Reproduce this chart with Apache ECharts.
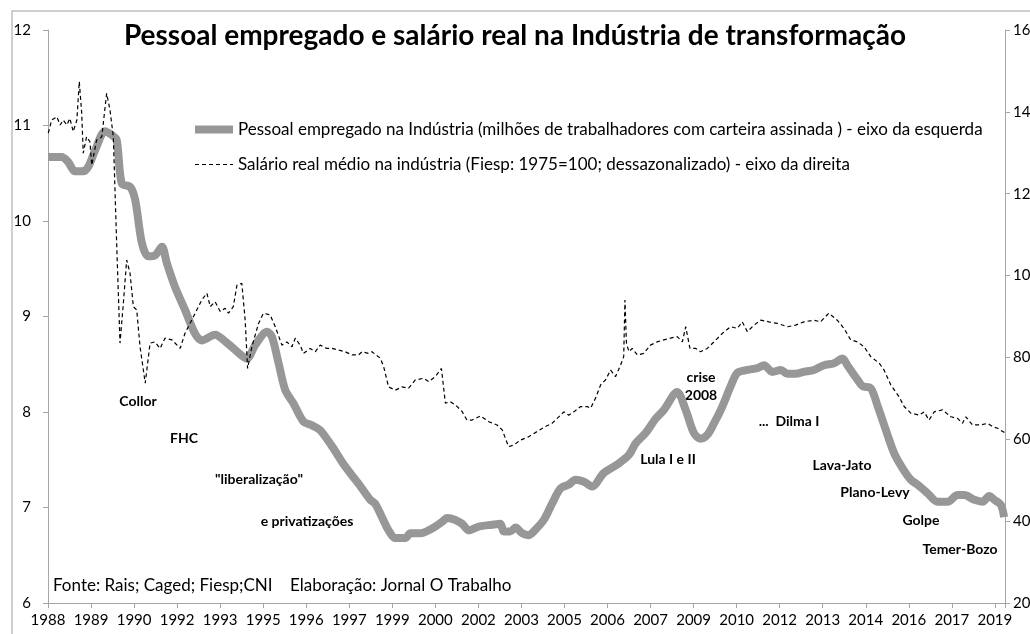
<!DOCTYPE html>
<html>
<head>
<meta charset="utf-8">
<script src="https://cdn.jsdelivr.net/npm/echarts@6/dist/echarts.min.js"></script>
<style>
html, body { margin: 0; padding: 0; background: #fff; }
#chart { width: 1030px; height: 634px; }
</style>
</head>
<body>
<div id="chart"></div>
<script>
// eixo x: meses desde jan/1988, um rótulo a cada 17 meses
var xLabels = ['1988', '1989', '1990', '1992', '1993', '1995', '1996', '1997', '1999', '2000', '2002', '2003',
    '2005', '2006', '2007', '2009', '2010', '2012', '2013', '2014', '2016', '2017', '2019']

// Pessoal empregado (milhões) - [ano, valor]
var empregados = [
    [1988.00, 10.67], [1988.45, 10.67], [1988.66, 10.62], [1988.89, 10.52], [1989.16, 10.52], [1989.33, 10.57],
    [1989.55, 10.74], [1989.88, 10.94], [1990.10, 10.90], [1990.26, 10.85], [1990.43, 10.39], [1990.70, 10.36],
    [1990.87, 10.22], [1991.09, 9.77], [1991.30, 9.63], [1991.52, 9.64], [1991.75, 9.73], [1991.91, 9.56],
    [1992.18, 9.31], [1992.51, 9.07], [1992.84, 8.82], [1993.06, 8.75], [1993.50, 8.81], [1993.83, 8.74],
    [1994.16, 8.65], [1994.55, 8.56], [1994.82, 8.70], [1995.21, 8.84], [1995.37, 8.79], [1995.59, 8.51],
    [1995.81, 8.23], [1996.08, 8.09], [1996.41, 7.90], [1996.69, 7.86], [1996.96, 7.81], [1997.35, 7.64],
    [1997.78, 7.43], [1998.22, 7.25], [1998.61, 7.08], [1998.77, 7.04], [1998.99, 6.90], [1999.21, 6.76],
    [1999.43, 6.68], [1999.76, 6.68], [1999.93, 6.73], [2000.26, 6.73], [2000.64, 6.78], [2000.97, 6.85],
    [2001.14, 6.89], [2001.41, 6.87], [2001.63, 6.83], [2001.85, 6.76], [2002.18, 6.80], [2002.62, 6.82],
    [2002.89, 6.83], [2003.00, 6.75], [2003.22, 6.75], [2003.39, 6.79], [2003.61, 6.73], [2003.82, 6.71],
    [2003.99, 6.75], [2004.32, 6.87], [2004.59, 7.04], [2004.87, 7.20], [2005.14, 7.24], [2005.36, 7.29],
    [2005.64, 7.27], [2005.91, 7.22], [2006.29, 7.36], [2006.74, 7.45], [2007.12, 7.55], [2007.34, 7.67],
    [2007.67, 7.78], [2008.00, 7.93], [2008.27, 8.02], [2008.71, 8.21], [2008.99, 8.02], [2009.26, 7.78],
    [2009.48, 7.72], [2009.70, 7.76], [2009.92, 7.88], [2010.20, 8.06], [2010.47, 8.27], [2010.69, 8.41],
    [2011.02, 8.44], [2011.35, 8.46], [2011.57, 8.49], [2011.84, 8.42], [2012.12, 8.44], [2012.34, 8.40],
    [2012.61, 8.40], [2012.88, 8.42], [2013.21, 8.44], [2013.54, 8.49], [2013.87, 8.51], [2014.15, 8.56],
    [2014.31, 8.49], [2014.64, 8.34], [2014.81, 8.27], [2015.08, 8.25], [2015.30, 8.07], [2015.58, 7.81],
    [2015.85, 7.57], [2016.13, 7.41], [2016.40, 7.29], [2016.62, 7.24], [2016.95, 7.15], [2017.28, 7.06],
    [2017.61, 7.06], [2017.94, 7.13], [2018.16, 7.13], [2018.49, 7.08], [2018.76, 7.06], [2018.98, 7.12],
    [2019.15, 7.08], [2019.36, 7.03], [2019.47, 6.90]
]

// Salário real médio (1975=100) - [ano, valor]
var salario = [
    [1988.01, 134.8], [1988.12, 138.0], [1988.29, 138.8], [1988.40, 136.8], [1988.50, 138.0], [1988.62, 136.8],
    [1988.72, 138.4], [1988.83, 135.2], [1988.95, 138.0], [1989.03, 147.4], [1989.11, 139.6], [1989.16, 129.9],
    [1989.27, 133.9], [1989.38, 132.7], [1989.44, 127.0], [1989.60, 133.1], [1989.77, 133.9], [1989.82, 137.2],
    [1989.93, 144.5], [1990.04, 140.5], [1990.15, 133.9], [1990.26, 107.9], [1990.37, 83.5], [1990.48, 93.2],
    [1990.59, 103.8], [1990.70, 100.6], [1990.81, 92.4], [1990.92, 91.6], [1991.03, 82.6], [1991.20, 73.7],
    [1991.36, 83.5], [1991.52, 83.8], [1991.69, 82.2], [1991.85, 84.7], [1992.08, 84.3], [1992.35, 82.2],
    [1992.51, 85.9], [1992.79, 90.0], [1993.06, 94.0], [1993.23, 95.7], [1993.34, 92.4], [1993.50, 93.6],
    [1993.67, 91.2], [1993.83, 92.0], [1993.94, 90.8], [1994.10, 92.4], [1994.22, 97.7], [1994.38, 98.1],
    [1994.49, 89.1], [1994.57, 77.3], [1994.71, 82.6], [1994.93, 88.3], [1995.09, 90.8], [1995.31, 90.4],
    [1995.48, 87.5], [1995.70, 83.0], [1995.86, 83.8], [1996.03, 82.6], [1996.14, 84.7], [1996.30, 83.0],
    [1996.41, 81.0], [1996.63, 82.2], [1996.80, 81.4], [1996.96, 83.0], [1997.18, 82.2], [1997.35, 82.2],
    [1997.56, 81.8], [1997.78, 81.4], [1998.01, 80.6], [1998.22, 80.6], [1998.34, 81.4], [1998.55, 81.0],
    [1998.66, 81.4], [1998.94, 79.8], [1999.05, 77.7], [1999.21, 72.8], [1999.43, 72.0], [1999.65, 72.8],
    [1999.87, 72.5], [2000.09, 74.5], [2000.36, 74.9], [2000.53, 74.1], [2000.75, 75.3], [2000.95, 77.3],
    [2001.08, 68.8], [2001.24, 69.2], [2001.41, 68.4], [2001.63, 66.8], [2001.79, 64.7], [2001.96, 64.7],
    [2002.23, 65.7], [2002.51, 64.3], [2002.78, 63.5], [2002.95, 62.3], [2003.16, 58.2], [2003.33, 58.6],
    [2003.55, 59.8], [2003.82, 60.6], [2004.10, 61.9], [2004.37, 63.1], [2004.59, 63.9], [2004.87, 65.9],
    [2004.98, 66.7], [2005.14, 65.9], [2005.31, 66.7], [2005.53, 68.0], [2005.75, 68.0], [2005.86, 67.6],
    [2006.02, 70.0], [2006.19, 73.3], [2006.35, 74.5], [2006.52, 76.9], [2006.68, 75.3], [2006.85, 78.2],
    [2006.95, 80.2], [2006.99, 94.0], [2007.04, 83.5], [2007.12, 81.4], [2007.23, 82.2], [2007.40, 80.6],
    [2007.61, 81.0], [2007.83, 83.0], [2008.05, 83.8], [2008.27, 84.3], [2008.49, 84.7], [2008.71, 85.1],
    [2008.88, 83.8], [2008.99, 87.5], [2009.13, 82.2], [2009.32, 82.2], [2009.48, 81.4], [2009.70, 82.2],
    [2009.92, 83.8], [2010.20, 85.9], [2010.47, 87.5], [2010.69, 87.1], [2010.85, 88.7], [2011.02, 86.3],
    [2011.24, 87.9], [2011.46, 89.1], [2011.73, 88.7], [2012.01, 88.3], [2012.34, 87.5], [2012.61, 87.9],
    [2012.88, 88.7], [2013.21, 89.1], [2013.43, 88.7], [2013.70, 90.8], [2013.98, 89.1], [2014.20, 87.1],
    [2014.42, 84.3], [2014.64, 83.8], [2014.86, 82.6], [2015.08, 80.2], [2015.36, 78.6], [2015.52, 76.9],
    [2015.74, 73.3], [2016.01, 70.4], [2016.18, 68.0], [2016.40, 66.4], [2016.67, 65.9], [2016.84, 66.7],
    [2017.00, 64.7], [2017.17, 66.7], [2017.44, 67.2], [2017.72, 65.5], [2017.94, 65.1], [2018.10, 63.9],
    [2018.21, 65.5], [2018.43, 63.5], [2018.71, 63.5], [2018.93, 63.9], [2019.09, 63.1], [2019.26, 62.7],
    [2019.42, 61.9], [2019.53, 61.5]
]

// anotações: [texto, x px, y px]
var notas = [
    ['Collor', 138, 401], ['FHC', 184, 438], ['"liberalização"', 259, 479], ['e privatizações', 307, 521],
    ['Lula I e II', 668, 459], ['crise', 701, 377], ['2008', 701, 395], ['...  Dilma I', 789, 421],
    ['Lava-Jato', 842, 465], ['Plano-Levy', 875, 492], ['Golpe', 921, 520], ['Temer-Bozo', 960, 549]
]

var nomeEmp = 'Pessoal empregado na Indústria (milhões de trabalhadores com carteira assinada ) - eixo da esquerda'
var nomeSal = 'Salário real médio na indústria (Fiesp: 1975=100; dessazonalizado) - eixo da direita'

function toMonth(p) {
    return [(p[0] - 1988) * 12, p[1]]
}

var fontFam = 'Lato, "Open Sans", sans-serif'
var axisColor = '#a6a6a6'
var grayLine = '#979797'

var graphics = [{
    type: 'rect',
    shape: { x: 12, y: 11, width: 1100, height: 700 },
    style: { fill: 'none', stroke: '#bfbfbf', lineWidth: 1.5 },
    silent: true
}, {
    type: 'text',
    left: 53,
    top: 577,
    style: {
        text: 'Fonte: Rais; Caged; Fiesp;CNI    Elaboração: Jornal O Trabalho',
        font: '17px ' + fontFam,
        fill: '#000'
    }
}]
notas.forEach(function(n) {
    graphics.push({
        type: 'text',
        x: n[1],
        y: n[2],
        style: {
            text: n[0],
            font: 'bold 14px ' + fontFam,
            fill: '#000',
            align: 'center',
            verticalAlign: 'middle'
        }
    })
})

var option = {
    animation: false,
    backgroundColor: '#fff',
    title: {
        text: 'Pessoal empregado e salário real na Indústria de transformação',
        left: 'center',
        top: 17,
        textStyle: {
            fontFamily: fontFam,
            fontWeight: 'bold',
            fontSize: 28,
            color: '#000'
        }
    },
    legend: {
        orient: 'vertical',
        left: 186,
        top: 116,
        itemWidth: 38,
        itemHeight: 14,
        itemGap: 18,
        itemStyle: { opacity: 0 },
        textStyle: {
            fontFamily: fontFam,
            fontSize: 17,
            color: '#000'
        },
        data: [
            { name: nomeEmp, lineStyle: { width: 8 } },
            { name: nomeSal, lineStyle: { width: 1.2 } }
        ]
    },
    grid: {
        left: 48,
        right: 25,
        top: 30,
        bottom: 31,
        outerBoundsMode: 'none'
    },
    xAxis: {
        type: 'value',
        min: 0,
        max: 378,
        interval: 17,
        splitLine: { show: false },
        axisLine: { lineStyle: { color: axisColor } },
        axisTick: { show: true, length: 5, lineStyle: { color: axisColor } },
        axisLabel: {
            color: '#000',
            fontSize: 15,
            fontFamily: fontFam,
            margin: 10,
            formatter: function(v) {
                return v % 17 === 0 && xLabels[v / 17] ? xLabels[v / 17] : ''
            }
        }
    },
    yAxis: [{
        type: 'value',
        min: 6,
        max: 12,
        interval: 1,
        splitLine: { show: false },
        axisLine: { show: true, lineStyle: { color: axisColor } },
        axisTick: { show: true, length: 5, lineStyle: { color: axisColor } },
        axisLabel: { color: '#000', fontSize: 15, fontFamily: fontFam, margin: 17 }
    }, {
        type: 'value',
        min: 20,
        max: 160,
        interval: 20,
        splitLine: { show: false },
        axisLine: { show: true, lineStyle: { color: axisColor } },
        axisTick: { show: true, length: 5, lineStyle: { color: axisColor } },
        axisLabel: { color: '#000', fontSize: 15, fontFamily: fontFam, margin: 8 }
    }],
    series: [{
        name: nomeEmp,
        type: 'line',
        yAxisIndex: 0,
        symbol: 'none',
        smooth: 0.3,
        itemStyle: { color: grayLine },
        lineStyle: { color: grayLine, width: 8 },
        data: empregados.map(toMonth),
        z: 2
    }, {
        name: nomeSal,
        type: 'line',
        yAxisIndex: 1,
        symbol: 'none',
        itemStyle: { color: '#000' },
        lineStyle: { color: '#000', width: 1.2, type: [4, 3] },
        data: salario.map(toMonth),
        z: 3
    }],
    graphic: graphics
}

var myChart = echarts.init(document.getElementById('chart'))
myChart.setOption(option)
window.addEventListener('resize', function() {
    myChart.resize()
})
</script>
</body>
</html>
